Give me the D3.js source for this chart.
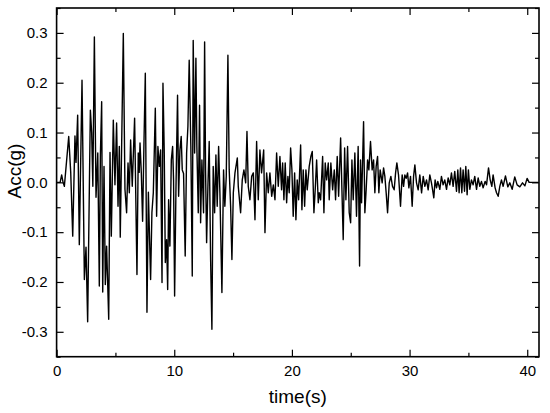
<!DOCTYPE html>
<html>
<head>
<meta charset="utf-8">
<script src="https://cdn.jsdelivr.net/npm/d3@7"></script>
<style>
html,body{margin:0;padding:0;background:#fff;}
text{font-family:"Liberation Sans",Arial,sans-serif;fill:#000;}
</style>
</head>
<body>
<svg id="chart" width="550" height="413"></svg>
<script>
// time (s)
const times = [
0,0.3,0.43,0.55,0.66,1.03,1.2,1.37,1.56,1.65,1.79,1.93,2.16,2.36,2.5,2.64,2.8,2.87,2.98,3.08,3.21,3.35,3.5,3.63,3.72,3.83,3.92,4.03,4.14,4.25,4.43,4.54,4.65,4.82,4.96,
5.1,5.22,5.33,5.41,5.5,5.67,5.81,5.95,6.07,6.18,6.29,6.43,6.63,6.83,6.94,7.02,7.09,7.2,7.31,7.43,7.54,7.68,7.8,7.99,8.1,8.22,8.39,8.5,8.61,8.73,8.84,8.96,9.04,9.15,9.24,9.35,9.44,9.52,9.63,9.75,9.86,
9.94,10.03,10.14,10.28,10.37,10.48,10.59,10.68,10.79,10.93,11.05,11.16,11.27,11.41,11.53,11.61,11.73,11.84,11.92,12.04,12.15,12.24,12.35,12.49,12.58,12.66,12.75,12.86,12.97,13.09,13.2,13.31,13.43,13.54,13.65,13.77,13.88,14.05,14.19,14.3,14.42,14.56,14.67,14.79,14.9,
15.02,15.16,15.36,15.44,15.64,15.78,15.92,16.07,16.18,16.29,16.43,16.58,16.72,16.86,17.0,17.14,17.28,17.42,17.6,17.71,17.85,17.99,18.13,18.28,18.42,18.56,18.7,18.84,18.98,
19.12,19.21,19.32,19.43,19.55,19.66,19.77,19.89,20.0,20.11,20.23,20.34,20.45,20.57,20.74,20.85,20.96,21.08,21.19,21.3,21.47,21.61,21.73,21.87,21.98,22.1,22.24,22.32,22.44,22.61,22.72,22.83,22.95,23.09,23.17,23.31,23.46,23.6,23.71,23.85,23.97,24.14,24.25,24.36,24.48,24.59,24.73,24.87,24.99,25.1,25.21,
25.35,25.49,25.63,25.75,25.83,25.92,26.09,26.2,26.31,26.43,26.54,26.68,26.82,26.94,27.05,27.16,27.28,27.39,27.5,27.67,27.79,27.9,28.01,28.13,28.27,28.41,28.55,28.69,28.81,28.92,29.06,29.23,29.37,29.49,29.6,29.71,29.83,29.94,30.08,30.22,30.34,30.45,30.59,30.73,30.87,31.02,31.16,31.3,31.44,31.58,31.72,
31.86,31.95,32.06,32.17,32.29,32.4,32.57,32.71,32.85,32.99,33.14,33.28,33.42,33.56,33.7,33.84,33.99,34.1,34.21,34.33,34.44,34.55,34.67,34.78,34.89,35.0,35.12,35.26,35.4,35.54,35.69,35.83,35.97,36.11,36.25,36.42,36.54,36.71,36.85,36.99,37.1,37.27,37.39,37.53,37.67,37.81,37.95,38.15,38.35,38.52,38.72,38.94,39.14,39.37,39.6,39.8,39.99,40.16,40.96
];
// acceleration (g)
const acc = [
0,0,0.015,0.0,-0.008,0.092,0.02,-0.108,0.093,0.04,0.135,-0.125,0.205,-0.195,-0.13,-0.28,0.02,0.145,0.1,-0.008,0.292,-0.03,0.059,-0.208,0.053,0.162,-0.22,0.032,-0.205,-0.128,-0.275,0.06,-0.108,0.125,-0.005,
0.119,-0.048,0.072,-0.11,0.03,0.299,-0.014,-0.061,0.039,-0.021,0.085,-0.008,0.129,-0.185,0.059,0.02,0.079,0.019,-0.078,0.085,0.219,-0.261,-0.02,-0.195,-0.061,-0.021,0.149,-0.068,0.072,0.032,0.065,-0.201,0.199,0.059,-0.161,-0.115,-0.215,-0.035,-0.128,0.045,0.072,
0.005,-0.228,-0.021,0.175,-0.028,0.065,0.092,0.025,0.018,-0.148,0.059,0.112,0.245,0.072,-0.188,0.285,0.059,0.249,0.072,-0.061,0.155,-0.081,0.045,-0.061,0.282,0.025,-0.121,-0.008,0.082,-0.155,-0.295,0.032,-0.061,0.055,-0.048,0.072,-0.021,-0.221,0.025,-0.048,0.012,0.255,0.025,-0.048,-0.155,
-0.021,0.019,0.049,-0.008,-0.061,0.005,0.025,-0.001,0.102,-0.008,-0.035,0.012,0.019,-0.075,0.082,-0.035,0.065,0.019,0.065,-0.101,0.019,-0.021,0.019,-0.028,-0.005,-0.035,0.059,-0.008,0.052,
-0.015,0.039,-0.035,0.039,-0.041,0.012,-0.021,0.069,0.025,-0.068,0.019,-0.075,0.005,-0.035,0.075,-0.055,0.025,-0.048,0.025,-0.015,0.032,0.052,0.062,-0.061,-0.015,0.045,-0.041,-0.021,-0.035,0.052,-0.061,0.039,0.005,0.039,-0.035,0.039,-0.015,0.025,-0.035,0.052,-0.028,0.089,-0.015,-0.115,0.069,-0.035,0.072,-0.061,-0.081,0.045,-0.035,
0.059,-0.068,0.072,-0.168,0.045,-0.041,0.122,-0.061,-0.015,0.045,0.025,0.082,0.025,0.045,-0.021,0.032,0.052,-0.021,0.025,-0.001,0.029,0.012,-0.021,-0.061,-0.001,0.012,-0.008,-0.015,0.019,0.039,0.015,-0.048,0.015,-0.008,0.015,0.008,0.019,-0.011,0.012,-0.048,0.012,0.035,-0.001,-0.015,0.015,-0.021,0.012,-0.008,0.005,-0.015,0.015,
-0.001,-0.014,-0.031,0.005,-0.011,0.002,-0.014,0.012,-0.005,0.005,-0.014,0.009,-0.005,0.019,-0.008,0.022,-0.018,0.025,-0.021,0.029,-0.021,0.025,-0.018,0.032,-0.025,0.025,-0.014,0.005,-0.005,0.012,-0.014,0.009,-0.008,0.002,-0.011,0.002,-0.005,0.029,0.005,-0.008,0.015,-0.011,-0.021,-0.028,-0.008,0.005,-0.008,0.013,-0.009,-0.001,-0.014,0.011,-0.005,-0.009,-0.001,-0.007,0.008,0,0
];
const xMajor = [0,10,20,30,40];
const xMinor = [5,15,25,35];
const yMajor = [-0.3,-0.2,-0.1,0.0,0.1,0.2,0.3];
const yMinor = [-0.35,-0.25,-0.15,-0.05,0.05,0.15,0.25,0.35];

const W = 550, H = 413;
const m = {left:56.6, right:11, top:8, bottom:56.3};
const svg = d3.select("#chart");
const x = d3.scaleLinear().domain([0,41]).range([m.left, W-m.right]);
const y = d3.scaleLinear().domain([-0.35,0.35]).range([H-m.bottom, m.top]);

const data = times.map((t,i)=>({t, a:acc[i]}));
const line = d3.line().x(d=>x(d.t)).y(d=>y(d.a));
svg.append("path").datum(data).attr("d", line)
  .attr("fill","none").attr("stroke","#000").attr("stroke-width",1.4).attr("stroke-linejoin","round");

function styleAxis(g){
  g.select(".domain").remove();
  g.selectAll("line").attr("stroke","#000").attr("stroke-width",1.2);
  g.selectAll("text").attr("font-size","15px").attr("font-family","'Liberation Sans',Arial,sans-serif");
}
const fmtY = d => d.toFixed(1);
// bottom
svg.append("g").attr("transform",`translate(0,${H-m.bottom})`)
  .call(d3.axisBottom(x).tickValues(xMajor).tickSize(-7).tickPadding(9).tickFormat(d3.format("d"))).call(styleAxis);
svg.append("g").attr("transform",`translate(0,${H-m.bottom})`)
  .call(d3.axisBottom(x).tickValues(xMinor).tickSize(-4).tickFormat("")).call(styleAxis);
// top
svg.append("g").attr("transform",`translate(0,${m.top})`)
  .call(d3.axisTop(x).tickValues(xMajor).tickSize(-7).tickFormat("")).call(styleAxis);
svg.append("g").attr("transform",`translate(0,${m.top})`)
  .call(d3.axisTop(x).tickValues(xMinor).tickSize(-4).tickFormat("")).call(styleAxis);
// left
svg.append("g").attr("transform",`translate(${m.left},0)`)
  .call(d3.axisLeft(y).tickValues(yMajor).tickSize(-7).tickPadding(9).tickFormat(fmtY)).call(styleAxis);
svg.append("g").attr("transform",`translate(${m.left},0)`)
  .call(d3.axisLeft(y).tickValues(yMinor).tickSize(-4).tickFormat("")).call(styleAxis);
// right
svg.append("g").attr("transform",`translate(${W-m.right},0)`)
  .call(d3.axisRight(y).tickValues(yMajor).tickSize(-7).tickFormat("")).call(styleAxis);
svg.append("g").attr("transform",`translate(${W-m.right},0)`)
  .call(d3.axisRight(y).tickValues(yMinor).tickSize(-4).tickFormat("")).call(styleAxis);

// frame
svg.append("rect").attr("x",m.left).attr("y",m.top).attr("width",W-m.left-m.right).attr("height",H-m.top-m.bottom)
  .attr("fill","none").attr("stroke","#000").attr("stroke-width",1.6);

// titles
svg.append("text").attr("x",(m.left+W-m.right)/2).attr("y",403).attr("text-anchor","middle")
  .attr("font-size","19px").text("time(s)");
svg.append("text").attr("transform","translate(21,171) rotate(-90)").attr("text-anchor","middle")
  .attr("font-size","19px").text("Acc(g)");
</script>
</body>
</html>
